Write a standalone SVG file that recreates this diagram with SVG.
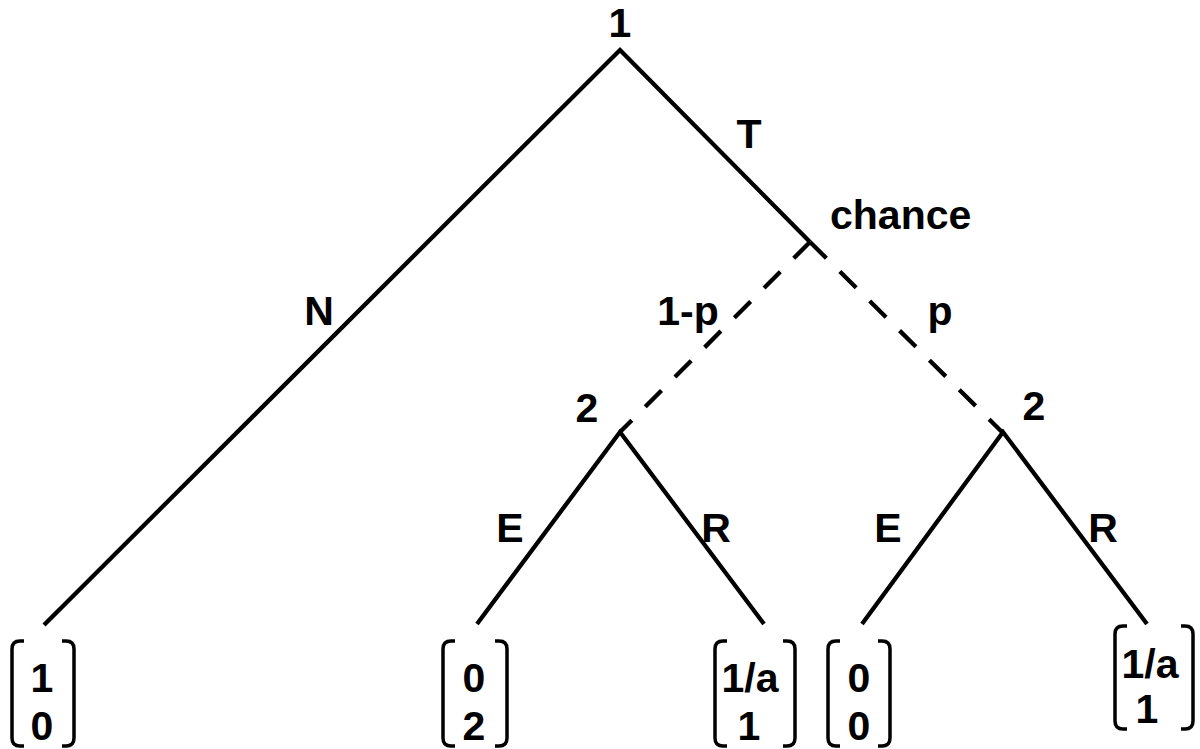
<svg xmlns="http://www.w3.org/2000/svg" width="1200" height="749" viewBox="0 0 1200 749">
<style>
text{font-family:"Liberation Sans",Arial,sans-serif;font-weight:bold;font-size:41px;fill:#000;text-anchor:middle}
.e{fill:none;stroke:#000;stroke-width:4.3;stroke-linejoin:miter}
.d{fill:none;stroke:#000;stroke-width:4.3;stroke-dasharray:23 19}
.b{fill:none;stroke:#000;stroke-width:3.5}
</style>
<rect width="1200" height="749" fill="#fff"/>
<g id="connectors">
<polyline class="e" points="44,625 620,50 810,242"/>
<line class="d" x1="810" y1="242" x2="620" y2="432"/>
<line class="d" x1="810" y1="242" x2="1003" y2="433"/>
<polyline class="e" points="477,624 620,432 764,624"/>
<polyline class="e" points="862,624 1003,432 1147,624"/>
<text x="749" y="148">T</text>
<text x="319" y="325">N</text>
<text x="688" y="325">1-p</text>
<text x="940" y="325">p</text>
<text x="510" y="542">E</text>
<text x="716" y="542">R</text>
<text x="888" y="542">E</text>
<text x="1103" y="542">R</text>
</g>
<g id="root"><text x="620" y="37">1</text></g>
<g id="chance"><text x="830" y="229" style="text-anchor:start">chance</text></g>
<g id="p2left"><text x="587" y="422">2</text></g>
<g id="p2right"><text x="1034" y="420">2</text></g>
<g id="leaf1">
<path class="b" d="M24,641 H20 Q12,641 12,649 V738 Q12,746 20,746 H24 M62,641 H66 Q74,641 74,649 V738 Q74,746 66,746 H62"/>
<text x="42" y="692">1</text><text x="42" y="740">0</text>
</g>
<g id="leaf2">
<path class="b" d="M455,641 H451 Q443,641 443,649 V738 Q443,746 451,746 H455 M495,641 H499 Q507,641 507,649 V738 Q507,746 499,746 H495"/>
<text x="474" y="692">0</text><text x="474" y="740">2</text>
</g>
<g id="leaf3">
<path class="b" d="M727,641 H723 Q715,641 715,649 V738 Q715,746 723,746 H727 M783,641 H787 Q795,641 795,649 V738 Q795,746 787,746 H783"/>
<text x="750" y="692">1/a</text><text x="749" y="740">1</text>
</g>
<g id="leaf4">
<path class="b" d="M840,641 H836 Q828,641 828,649 V738 Q828,746 836,746 H840 M878,641 H882 Q890,641 890,649 V738 Q890,746 882,746 H878"/>
<text x="859" y="692">0</text><text x="859" y="740">0</text>
</g>
<g id="leaf5">
<path class="b" d="M1127,626 H1123 Q1115,626 1115,634 V721 Q1115,729 1123,729 H1127 M1181,626 H1185 Q1193,626 1193,634 V721 Q1193,729 1185,729 H1181"/>
<text x="1150" y="678">1/a</text><text x="1147" y="723">1</text>
</g>
</svg>
